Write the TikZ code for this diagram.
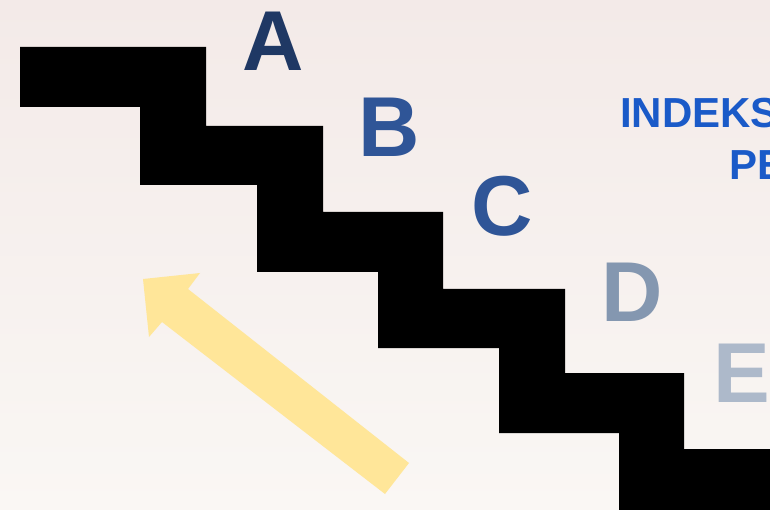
\documentclass[tikz,border=0pt]{standalone}
\usepackage{fontspec}
\setmainfont{Liberation Sans}
\usetikzlibrary{positioning,calc}
\usepackage{xcolor}
\definecolor{navy}{HTML}{1F3864}
\definecolor{midblue}{HTML}{2F5597}
\definecolor{greyblue}{HTML}{8497B0}
\definecolor{paleblue}{HTML}{ADB9CA}
\definecolor{titleblue}{HTML}{1A5AC8}
\definecolor{arrowyellow}{HTML}{FFE699}
\definecolor{bgtop}{HTML}{F3EAE8}
\definecolor{bgbottom}{HTML}{FAF7F4}

\begin{document}
\begin{tikzpicture}[x=1pt,y=-1pt,
    letter/.style={font=\fontsize{85}{85}\selectfont\bfseries, inner sep=0pt, anchor=base},
    title/.style={font=\fontsize{42}{42}\selectfont\bfseries, text=titleblue, inner sep=0pt, anchor=base west}]
    % 背景
    \shade[top color=bgtop, bottom color=bgbottom] (0,0) rectangle (770,510);
    \clip (0,0) rectangle (770,510);
    % 台阶
    \fill[black] (20,47) -- (206,47) -- (206,126) -- (323,126) -- (323,212) -- (443,212)
        -- (443,289) -- (565,289) -- (565,373) -- (684,373) -- (684,449) -- (770,449)
        -- (770,510) -- (619,510) -- (619,433) -- (499,433) -- (499,348) -- (378,348)
        -- (378,272) -- (257,272) -- (257,185) -- (140,185) -- (140,107) -- (20,107) -- cycle;
    % 箭头
    \fill[arrowyellow] (409,463) -- (188,289) -- (200,273) -- (143,279) -- (149,337)
        -- (162,322) -- (385,494) -- cycle;
    % 等级
    \foreach \name/\x/\y/\col in {A/273/71/navy, B/389/157/midblue, C/502/236/midblue,
        D/632/321/greyblue, E/742/402/paleblue} {
        \node[letter, text=\col] (\name) at (\x,\y) {\name};
    }
    % 标题
    \node[title] (indeks) at (620,128) {INDEKS};
    \node[title] (pe) at (729,180) {PE};
\end{tikzpicture}
\end{document}
